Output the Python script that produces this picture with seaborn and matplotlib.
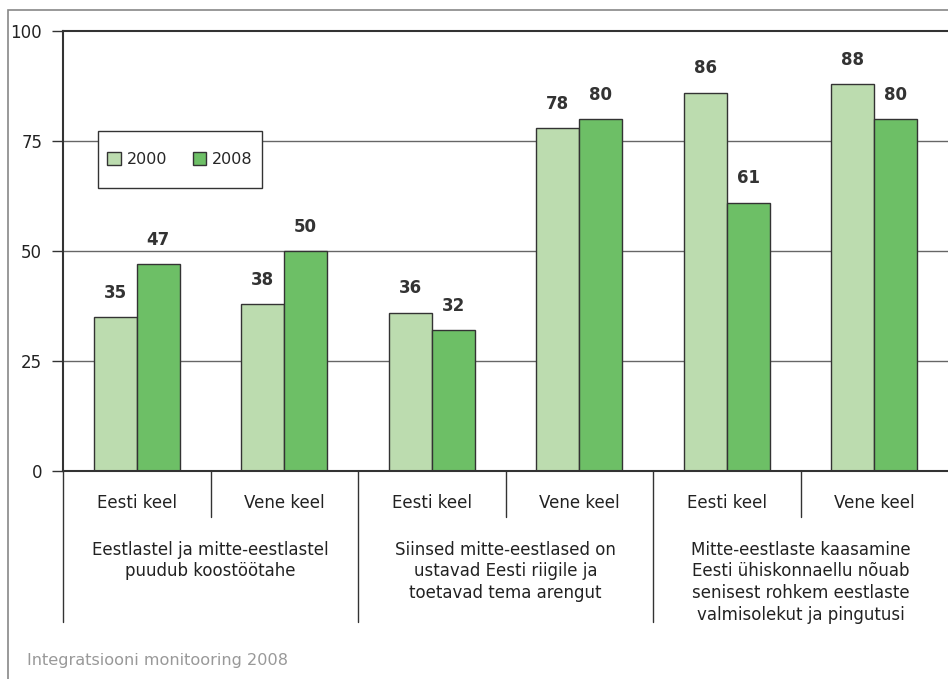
import matplotlib
matplotlib.use("Agg")
import matplotlib.pyplot as plt
import seaborn as sns
import pandas as pd
from matplotlib.patches import Rectangle
from matplotlib.transforms import blended_transform_factory

sns.set_theme(style="white")
plt.rcParams['font.family'] = ['DejaVu Sans']

subcats = ["Eesti keel", "Vene keel", "Eesti keel", "Vene keel", "Eesti keel", "Vene keel"]
groups = ["Eestlastel ja mitte-eestlastel\npuudub koostöötahe",
          "Siinsed mitte-eestlased on\nustavad Eesti riigile ja\ntoetavad tema arengut",
          "Mitte-eestlaste kaasamine\nEesti ühiskonnaellu nõuab\nsenisest rohkem eestlaste\nvalmisolekut ja pingutusi"]
years = ["2000", "2008"]
vals_2000 = [35, 38, 36, 78, 86, 88]
vals_2008 = [47, 50, 32, 80, 61, 80]
colors = ["#bcdcaf", "#6dbf66"]

pos = [f"c{i}" for i in range(len(subcats))]
df = pd.DataFrame({
    "pos": pos * 2,
    "year": [years[0]] * 6 + [years[1]] * 6,
    "value": vals_2000 + vals_2008,
})

W, H = 948, 679
fig = plt.figure(figsize=(W / 100, H / 100), dpi=100)
ax = fig.add_axes([63 / W, 1 - 471 / H, 1 - 63 / W, (471 - 31) / H])

sns.barplot(data=df, x="pos", y="value", hue="year", palette=colors,
            order=pos, hue_order=years, width=0.58, ax=ax,
            edgecolor="#333333", linewidth=1.0, saturation=1.0, legend=True)

ax.set_ylim(0, 100)
ax.set_xlim(-0.5, 5.5)
ax.set_yticks([0, 25, 50, 75, 100])
ax.set_yticklabels(["0", "25", "50", "75", "100"], fontsize=12, color="#222222")
ax.tick_params(axis="y", length=8, width=1, color="#333333", pad=7, left=True)
ax.set_xticks([])
ax.set_xlabel("")
ax.set_ylabel("")
for y in [25, 50, 75]:
    ax.axhline(y, color="#666666", lw=1, zorder=0)
for s in ["top", "left", "bottom"]:
    ax.spines[s].set_visible(True)
    ax.spines[s].set_color("#333333")
    ax.spines[s].set_linewidth(1.5)
ax.spines["right"].set_visible(False)

for cont in ax.containers:
    ax.bar_label(cont, fmt="%d", padding=11, fontsize=12, fontweight="bold", color="#333333")

# legend box (pixel geometry of the reference)
aw, ah = W - 63, 440
lx0, lx1, ly0, ly1 = 98, 262, 131, 188
ax.add_patch(Rectangle(((lx0 - 63) / aw, 1 - (ly1 - 31) / ah), (lx1 - lx0) / aw, (ly1 - ly0) / ah,
                       transform=ax.transAxes, facecolor="white", edgecolor="#333333",
                       lw=1, zorder=4))
leg = ax.legend(loc="center", bbox_to_anchor=(((lx0 + lx1) / 2 - 63) / aw, 1 - ((ly0 + ly1) / 2 - 31) / ah),
                ncol=2, frameon=False, fontsize=11.5, handlelength=0.85,
                handleheight=0.85, columnspacing=1.6, handletextpad=0.35,
                borderpad=0.2, borderaxespad=0)
leg.set_zorder(5)

# category axis
trans = blended_transform_factory(ax.transData, ax.transAxes)
px = 1 / 440.0
for i, name in enumerate(subcats):
    ax.text(i, -(503 - 471) * px, name, transform=trans, ha="center", va="center",
            fontsize=12, color="#222222")
for b in [0.5, 2.5, 4.5]:
    ax.plot([b, b], [0, -(517 - 471) * px], transform=trans, color="#333333",
            lw=1, clip_on=False)
for b in [-0.5, 1.5, 3.5]:
    ax.plot([b, b], [0, -(622 - 471) * px], transform=trans, color="#333333",
            lw=1, clip_on=False)
for g, name in enumerate(groups):
    ax.text(2 * g + 0.5, -(541 - 471) * px, name, transform=trans, ha="center", va="top",
            fontsize=12, color="#222222", linespacing=1.25)

# outer frame
fig.patches.append(Rectangle((8 / W, -0.01), 1.0, 1 - 10 / H + 0.01, transform=fig.transFigure,
                             fill=False, edgecolor="#888888", lw=1.2, zorder=-1))
fig.text(27 / W, 1 - 661 / H, "Integratsiooni monitooring 2008", fontsize=11.6,
         color="#999999", ha="left", va="center")

fig.savefig("out.png", dpi=100)
